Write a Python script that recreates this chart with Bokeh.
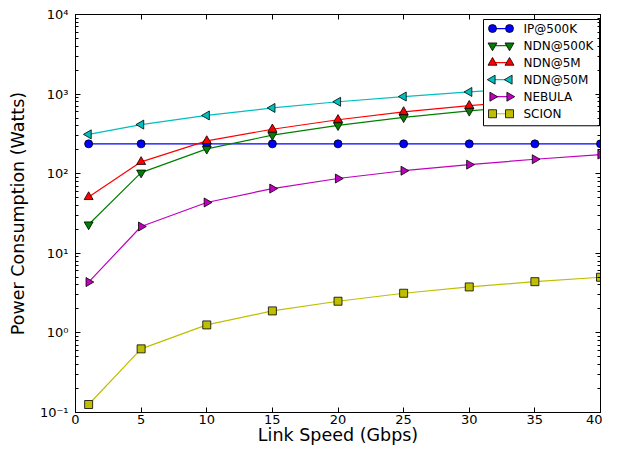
from bokeh.plotting import figure
from bokeh.models import (LinearAxis, LogAxis, FixedTicker, CustomJSTickFormatter,
                          Range1d, LinearScale)
from bokeh.core.properties import value
from bokeh.embed import file_html
from bokeh.resources import INLINE
import math

# ---- data ----
link_speed = [1, 5, 10, 15, 20, 25, 30, 35, 40]
ip_500k   = [237, 237, 237, 237, 237, 237, 237, 237, 237]
ndn_500k  = [23, 103, 205, 305, 405, 510, 615, 720, 850]
ndn_5m    = [51, 141, 258, 362, 476, 598, 716, 830, 950]
ndn_50m   = [312, 414, 539, 670, 801, 932, 1064, 1195, 1330]
nebula    = [4.35, 21.7, 43.5, 65, 87, 109, 130, 152, 174]
scion     = [0.126, 0.63, 1.26, 1.89, 2.5, 3.15, 3.78, 4.4, 5.0]

series_names = ["IP@500K", "NDN@500K", "NDN@5M", "NDN@50M", "NEBULA", "SCION"]
series_vals = [ip_500k, ndn_500k, ndn_5m, ndn_50m, nebula, scion]

x_ticks = [0, 5, 10, 15, 20, 25, 30, 35, 40]
y_ticks = [0.1, 1, 10, 100, 1000, 10000]

# ---- style ----
colors = ["#0000ff", "#008000", "#ff0000", "#00bfbf", "#bf00bf", "#bfbf00"]
markers = ["circle", "inverted_triangle", "triangle", "triangle", "triangle", "square"]
angles = [0, 0, 0, math.pi / 2, -math.pi / 2, 0]
sizes = [8, 9, 9, 9, 9, 8]
FONT = "DejaVu Sans"

# legend layout (pixels, measured from the frame's top-right corner)
FRAME_W, FRAME_H = 525, 397
LEG_LEFT, LEG_RIGHT, LEG_TOP, LEG_BOTTOM = -117, -1, -5, -111
LEG_ROW0, LEG_ROW_STEP = -14, 17
LEG_KEY_X0, LEG_KEY_X1, LEG_TEXT_X = -108, -91, -77

p = figure(width=602, height=447, y_axis_type="log",
           x_range=Range1d(0, 40), y_range=Range1d(0.1, 10000),
           output_backend="svg", toolbar_location=None,
           min_border_left=75, min_border_right=2, min_border_top=14, min_border_bottom=33)
p.grid.visible = False
p.outline_line_color = "black"
p.outline_line_width = 1
p.background_fill_color = "white"

p.extra_x_ranges = {"leg": Range1d(-FRAME_W, 0)}
p.extra_y_ranges = {"leg": Range1d(-FRAME_H, 0)}
p.extra_x_scales = {"leg": LinearScale()}
p.extra_y_scales = {"leg": LinearScale()}

minor = []
for d in y_ticks[:-1]:
    for k in range(2, 10):
        minor.append(d * k)

fmt = CustomJSTickFormatter(code="""
const sup = {"-":"\u207b","0":"\u2070","1":"\u00b9","2":"\u00b2","3":"\u00b3","4":"\u2074","5":"\u2075","6":"\u2076","7":"\u2077","8":"\u2078","9":"\u2079"};
const e = Math.round(Math.log10(tick));
return "10" + String(e).split("").map(c => sup[c]).join("");
""")

def style_axis(ax, labels=True):
    ax.major_tick_in = 5
    ax.major_tick_out = 0
    ax.minor_tick_in = 3
    ax.minor_tick_out = 0
    ax.axis_line_color = "black"
    ax.major_tick_line_color = "black"
    ax.minor_tick_line_color = "black"
    ax.major_label_text_font = FONT
    ax.major_label_text_font_size = "13px"
    ax.major_label_text_color = "black"
    ax.axis_label_text_font = FONT
    ax.axis_label_text_font_size = "17.5px"
    ax.axis_label_text_font_style = "normal"
    ax.axis_label_text_color = "black"
    if not labels:
        ax.major_label_text_font_size = "0px"
        ax.major_label_text_alpha = 0
        ax.major_label_standoff = 0

xa = p.xaxis[0]
xa.ticker = FixedTicker(ticks=x_ticks)
xa.axis_label = "Link Speed (Gbps)"
style_axis(xa)
xa.minor_tick_in = 0
xa.major_label_standoff = 2
xa.axis_label_standoff = -2

ya = p.yaxis[0]
ya.ticker = FixedTicker(ticks=y_ticks, minor_ticks=minor)
ya.formatter = fmt
ya.axis_label = "Power Consumption (Watts)"
style_axis(ya)
ya.major_label_standoff = 7
ya.axis_label_standoff = 9

top = LinearAxis(ticker=FixedTicker(ticks=x_ticks))
style_axis(top, labels=False)
top.minor_tick_in = 0
p.add_layout(top, "above")

right = LogAxis(ticker=FixedTicker(ticks=y_ticks, minor_ticks=minor))
style_axis(right, labels=False)
p.add_layout(right, "right")

# data series
for name, vals, c, m, a, s in zip(series_names, series_vals, colors, markers, angles, sizes):
    p.line(link_speed, vals, line_color=c, line_width=1.2)
    p.scatter(link_speed, vals, marker=m, size=s, angle=a,
              fill_color=c, line_color="black", line_width=0.8)

# legend (matplotlib style: two markers joined by a line)
p.quad(left=[LEG_LEFT], right=[LEG_RIGHT], top=[LEG_TOP], bottom=[LEG_BOTTOM],
       fill_color="white", line_color="black", line_width=1,
       x_range_name="leg", y_range_name="leg")
for i, (name, c, m, a, s) in enumerate(zip(series_names, colors, markers, angles, sizes)):
    ry = LEG_ROW0 - i * LEG_ROW_STEP
    p.segment(x0=[LEG_KEY_X0], y0=[ry], x1=[LEG_KEY_X1], y1=[ry],
              line_color=c, line_width=1.2, x_range_name="leg", y_range_name="leg")
    p.scatter(x=[LEG_KEY_X0, LEG_KEY_X1], y=[ry, ry], marker=m, size=s, angle=a,
              fill_color=c, line_color="black", line_width=0.8,
              x_range_name="leg", y_range_name="leg")
    p.text(x=[LEG_TEXT_X], y=[ry], text=[name], text_font=value(FONT),
           text_font_size="12px", text_baseline="middle", text_align="left",
           text_color="black", x_range_name="leg", y_range_name="leg")

open("out.html", "w").write(file_html(p, INLINE))
